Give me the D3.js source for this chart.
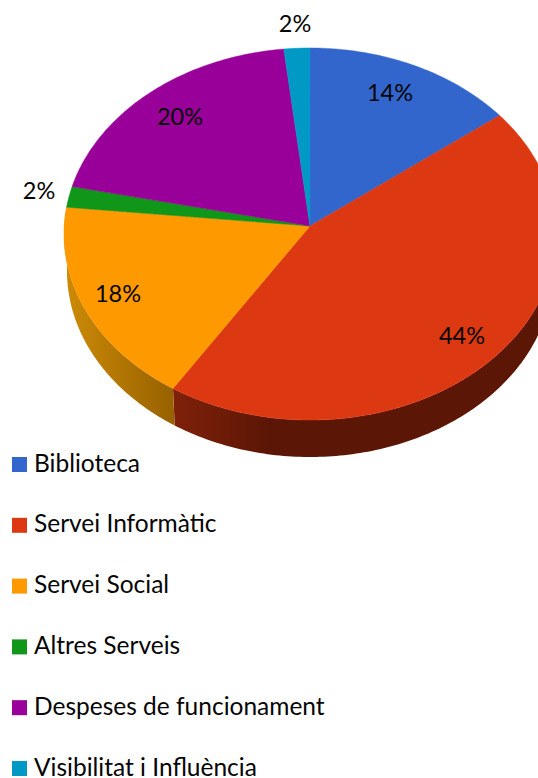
<!DOCTYPE html>
<html lang="ca">
	<head>
		<meta charset="UTF-8" />
		<title>Pressupost</title>
		<style>
			html,
			body {
				margin: 0;
				padding: 0;
				background-color: #fff;
				overflow: hidden;
			}

			svg {
				display: block;
			}

			text {
				font-family: Lato, 'Open Sans', sans-serif;
				fill: #050505;
			}
		</style>
	</head>
	<body>
		<svg id="chart"></svg>

		<script src="https://d3js.org/d3.v7.min.js"></script>

		<script>
			const categories = [
				'Biblioteca',
				'Servei Informàtic',
				'Servei Social',
				'Altres Serveis',
				'Despeses de funcionament',
				'Visibilitat i Influència'
			];
			// shares as drawn in the picture, the printed labels are rounded differently
			const drawnShares = [14.0, 45.4, 17.9, 1.8, 19.2, 1.7];
			const printedLabels = ['14%', '44%', '18%', '2%', '20%', '2%'];
			const colors = ['#3366cc', '#dc3912', '#ff9900', '#109618', '#990099', '#0099c6'];

			const width = 538;
			const height = 778;

			// top face ellipse, slices meet at an apex a bit above its centre
			const cx = 310;
			const cy = 234;
			const rx = 246;
			const ry = 186;
			const apexY = 226;
			const depth = 37;
			const bottomRx = 243; // lower rim looks a little narrower

			const labelSpots = [
				[390, 101],
				[462, 344],
				[118, 302],
				[39, 199],
				[180, 125],
				[295, 32]
			];

			const svg = d3.select('#chart').attr('width', width).attr('height', height);
			const defs = svg.append('defs');

			const pie = d3.pie().sort(null);
			const slices = pie(drawnShares);

			const rimPoint = (angle) => [cx + rx * Math.sin(angle), cy - ry * Math.cos(angle)];
			const lowerRimPoint = (angle) => [
				cx + bottomRx * Math.sin(angle),
				cy + depth - ry * Math.cos(angle)
			];
			const anglesBetween = (a, b) => {
				const steps = Math.max(2, Math.ceil((b - a) * 60));
				return d3.range(steps + 1).map((i) => a + ((b - a) * i) / steps);
			};
			const line = d3.line();

			// side wall shading, only the two front slices show one
			const wallGradients = [
				{ id: 'wall-1', x1: 172, x2: 270, from: '#80210a', to: '#5b1605' },
				{ id: 'wall-2', x1: 66, x2: 172, from: '#cc8a06', to: '#986200' }
			];
			wallGradients.forEach((g) => {
				const grad = defs
					.append('linearGradient')
					.attr('id', g.id)
					.attr('gradientUnits', 'userSpaceOnUse')
					.attr('x1', g.x1)
					.attr('x2', g.x2)
					.attr('y1', 0)
					.attr('y2', 0);
				grad.append('stop').attr('offset', 0).attr('stop-color', g.from);
				grad.append('stop').attr('offset', 1).attr('stop-color', g.to);
			});

			svg.append('g')
				.selectAll('path')
				.data(slices.filter((d) => d.index === 1 || d.index === 2))
				.join('path')
				.attr('fill', (d) => `url(#wall-${d.index})`)
				.attr('d', (d) => {
					const a = Math.max(d.startAngle, Math.PI / 2);
					const angles = anglesBetween(a, d.endAngle);
					const top = angles.map(rimPoint);
					const bottom = angles.map(lowerRimPoint).reverse();
					return line(top.concat(bottom)) + 'Z';
				});

			svg.append('g')
				.selectAll('path')
				.data(slices)
				.join('path')
				.attr('fill', (d, i) => colors[i])
				.attr('stroke', (d, i) => colors[i])
				.attr('stroke-width', 0.5)
				.attr('d', (d) => {
					const rim = anglesBetween(d.startAngle, d.endAngle).map(rimPoint);
					return line([[cx, apexY], ...rim]) + 'Z';
				});

			svg.append('g')
				.selectAll('text')
				.data(printedLabels)
				.join('text')
				.attr('x', (d, i) => labelSpots[i][0])
				.attr('y', (d, i) => labelSpots[i][1])
				.attr('text-anchor', 'middle')
				.attr('font-size', 23.5)
				.text((d) => d);

			const legendY = d3.scalePoint().domain(categories).range([457, 761]);
			const legend = svg
				.append('g')
				.selectAll('g')
				.data(categories)
				.join('g')
				.attr('transform', (d) => `translate(12,${legendY(d)})`);
			legend
				.append('rect')
				.attr('width', 15)
				.attr('height', 15)
				.attr('fill', (d, i) => colors[i]);
			legend
				.append('text')
				.attr('x', 22)
				.attr('y', 14.5)
				.attr('font-size', 24.5)
				.text((d) => d);
		</script>
	</body>
</html>
